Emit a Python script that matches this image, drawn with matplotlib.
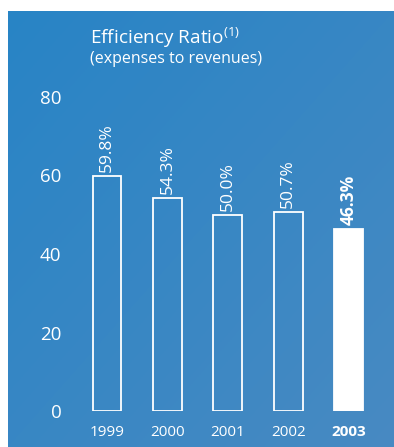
import matplotlib
matplotlib.use('Agg')
import matplotlib.pyplot as plt
import numpy as np

years = ['1999', '2000', '2001', '2002', '2003']
ratio = [59.8, 54.3, 50.0, 50.7, 46.3]
yticks = [0, 20, 40, 60, 80]

plt.rcParams['font.family'] = ['Open Sans', 'DejaVu Sans']
plt.rcParams['mathtext.fontset'] = 'custom'
plt.rcParams['mathtext.rm'] = 'Open Sans'

W, H = 394, 447
fig = plt.figure(figsize=(W / 100, H / 100), dpi=100)
fig.patch.set_facecolor('white')

# blue background panel, slightly lighter toward bottom right
bg = fig.add_axes([8 / W, 0, (W - 8) / W, (H - 11) / H])
bg.axis('off')
c1 = np.array([0x28, 0x84, 0xc6]) / 255
c2 = np.array([0x48, 0x8a, 0xc2]) / 255
gx = np.linspace(0, 1, 200)
gy = np.linspace(0, 1, 200)
t = 0.5 * gx[None, :] + 0.5 * gy[:, None]
grad = c1[None, None, :] * (1 - t[..., None]) + c2[None, None, :] * t[..., None]
bg.imshow(grad, aspect='auto', origin='upper', extent=[0, 1, 0, 1])

# main chart
left, right = 76.8, 76.8 + 302
bottom, top = 411, 97
ax = fig.add_axes([left / W, (H - bottom) / H, (right - left) / W, (bottom - top) / H])
ax.set_facecolor('none')
x = np.arange(len(years))
for i, v in enumerate(ratio):
    last = i == len(years) - 1
    ax.bar(x[i], v, width=0.48, color='white' if last else 'none',
           edgecolor='white', linewidth=1.3)
    ax.text(x[i], v + 1.0, f'{v:.1f}%', rotation=90, ha='center', va='bottom',
            color='white', fontsize=12.5, fontweight='bold' if last else 'normal',
            clip_on=False)

ax.set_xlim(-0.5, len(years) - 0.5)
ax.set_ylim(0, 80)
ax.set_yticks(yticks)
ax.set_xticks(x)
ax.set_xticklabels([])
for s in ax.spines.values():
    s.set_visible(False)
ax.tick_params(axis='y', length=0, pad=11, labelsize=13.5, labelcolor='white')
ax.tick_params(axis='x', length=0)
for i, yr in enumerate(years):
    ax.text(x[i], -5.4, yr, ha='center', va='center', color='white', fontsize=11,
            fontweight='bold' if i == len(years) - 1 else 'normal', clip_on=False)

fig.text(90 / W, 1 - 44 / H, 'Efficiency Ratio$^{\\mathrm{(1)}}$', color='white',
         fontsize=13.7, va='baseline', ha='left')
fig.text(90 / W, 1 - 63 / H, '(expenses to revenues)', color='white',
         fontsize=11.5, va='baseline', ha='left')

fig.savefig('out.png', dpi=100, facecolor=fig.get_facecolor())
